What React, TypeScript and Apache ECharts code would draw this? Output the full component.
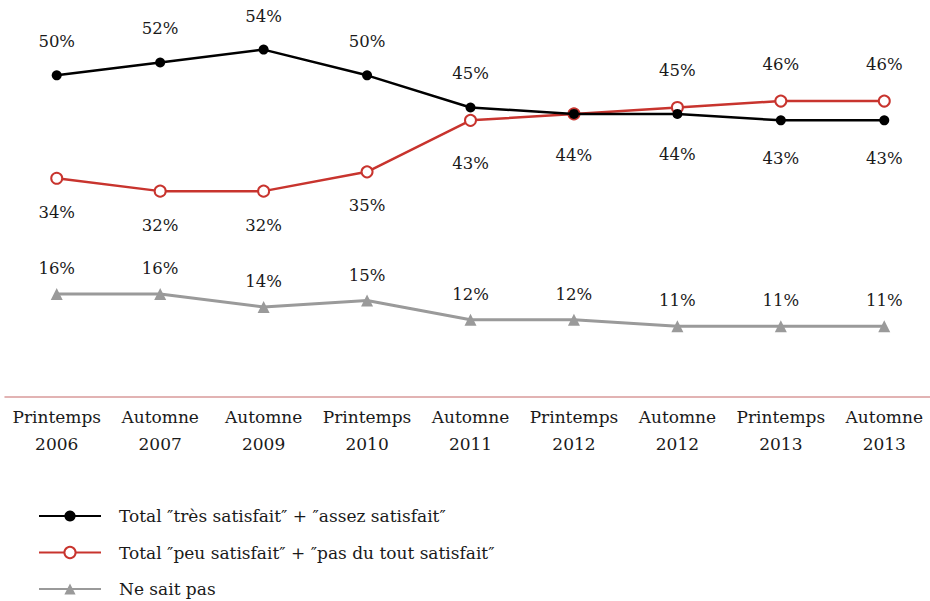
import React, { useEffect, useRef } from "react";
import * as echarts from "echarts";

const categories = [
  "Printemps\n2006",
  "Automne\n2007",
  "Automne\n2009",
  "Printemps\n2010",
  "Automne\n2011",
  "Printemps\n2012",
  "Automne\n2012",
  "Printemps\n2013",
  "Automne\n2013",
];
const satisfied = [50, 52, 54, 50, 45, 44, 44, 43, 43];
const unsatisfied = [34, 32, 32, 35, 43, 44, 45, 46, 46];
const dontKnow = [16, 16, 14, 15, 12, 12, 11, 11, 11];

const seriesNames = [
  "Total ″très satisfait″ + ″assez satisfait″",
  "Total ″peu satisfait″ + ″pas du tout satisfait″",
  "Ne sait pas",
];

// label placement per point: [position, distance] or null (hidden)
const satisfiedLabelPos: ([string, number] | null)[] = [
  ["top", 20], ["top", 20], ["top", 20], ["top", 20], ["top", 21],
  null, ["bottom", 27], ["bottom", 25], ["bottom", 25],
];
const unsatisfiedLabelPos: ([string, number] | null)[] = [
  ["bottom", 19], ["bottom", 19], ["bottom", 19], ["bottom", 19], ["bottom", 28],
  ["bottom", 27], ["top", 22], ["top", 22], ["top", 22],
];

const FONT = "DejaVu Serif";

function withLabels(values: number[], pos: ([string, number] | null)[]) {
  return values.map((v, i) => {
    const p = pos[i];
    return {
      value: v,
      label: p
        ? { show: true, position: p[0], distance: p[1] }
        : { show: false },
    };
  });
}

export default function App() {
  const ref = useRef<HTMLDivElement>(null);
  useEffect(() => {
    if (!ref.current) return;
    const chart = echarts.init(ref.current, undefined, { renderer: "svg" });
    const labelBase = {
      show: true,
      formatter: "{c}%",
      color: "#1a1a1a",
      fontFamily: FONT,
      fontSize: 16.5,
    };
    chart.setOption({
      animation: false,
      backgroundColor: "#ffffff",
      grid: { left: 5, right: 0, top: 11, bottom: 243 },
      xAxis: {
        type: "category",
        data: categories,
        boundaryGap: true,
        axisLine: { show: true, lineStyle: { color: "#d99a9a", width: 1.5 } },
        axisTick: { show: false },
        axisLabel: {
          interval: 0,
          margin: 6,
          color: "#1a1a1a",
          fontFamily: FONT,
          fontSize: 17,
          lineHeight: 27,
        },
      },
      yAxis: {
        type: "value",
        min: 0,
        max: 60,
        show: false,
        splitLine: { show: false },
      },
      legend: {
        orient: "vertical",
        left: 38,
        top: 507.5,
        padding: 0,
        itemWidth: 62,
        itemHeight: 14,
        itemGap: 19.5,
        data: seriesNames,
        textStyle: {
          color: "#1a1a1a",
          fontFamily: FONT,
          fontSize: 17,
          padding: [0, 0, 0, 13],
        },
      },
      series: [
        {
          name: seriesNames[1],
          type: "line",
          z: 3,
          data: withLabels(unsatisfied, unsatisfiedLabelPos),
          symbol: "circle",
          symbolSize: 11,
          itemStyle: { color: "#ffffff", borderColor: "#c8342e", borderWidth: 2 },
          lineStyle: { color: "#c8342e", width: 2.5 },
          label: labelBase,
        },
        {
          name: seriesNames[0],
          type: "line",
          z: 4,
          data: withLabels(satisfied, satisfiedLabelPos),
          symbol: "circle",
          symbolSize: 10,
          itemStyle: { color: "#000000" },
          lineStyle: { color: "#000000", width: 2.5 },
          label: labelBase,
        },
        {
          name: seriesNames[2],
          type: "line",
          z: 2,
          data: dontKnow,
          symbol: "triangle",
          symbolSize: 12,
          itemStyle: { color: "#9a9a9a" },
          lineStyle: { color: "#9a9a9a", width: 3 },
          label: { ...labelBase, position: "top", distance: 11 },
        },
      ],
    });
    return () => chart.dispose();
  }, []);
  return (
    <div
      ref={ref}
      style={{ position: "fixed", left: 0, top: 0, width: 936, height: 640 }}
    />
  );
}
